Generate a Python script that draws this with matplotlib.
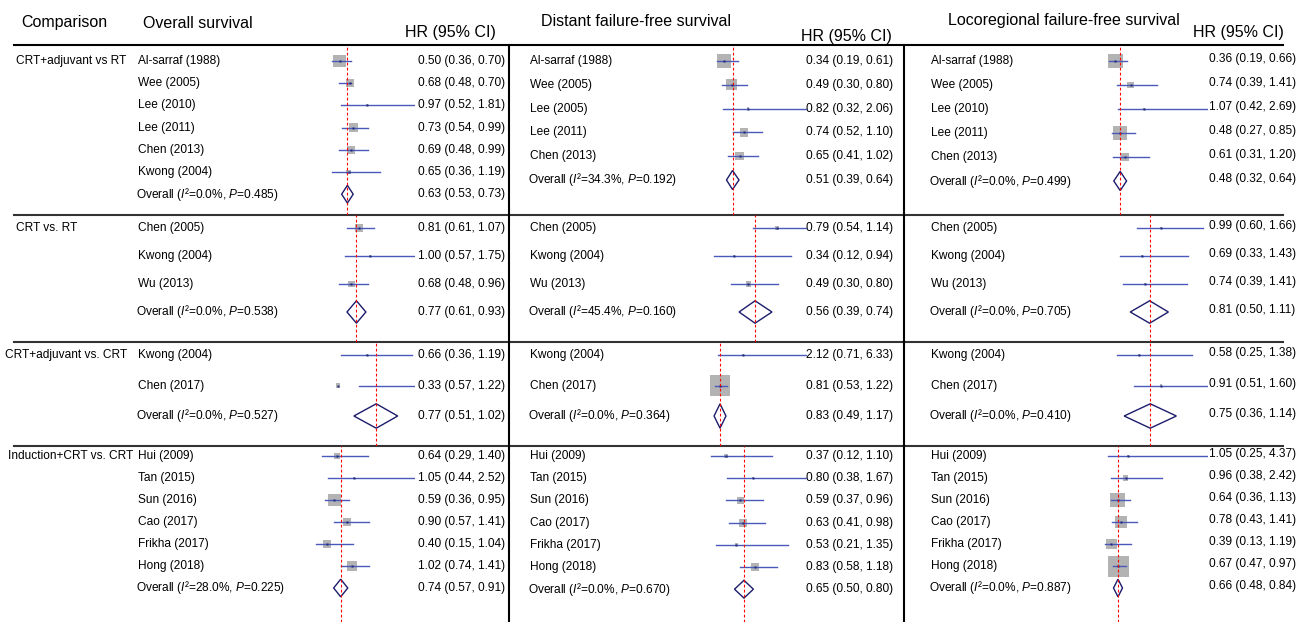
import matplotlib
matplotlib.use('Agg')
import matplotlib.pyplot as plt
from matplotlib.patches import Rectangle, Polygon

plt.rcParams['font.family'] = ['Liberation Sans', 'DejaVu Sans']
plt.rcParams['mathtext.fontset'] = 'custom'
plt.rcParams['mathtext.rm'] = 'Liberation Sans'
plt.rcParams['mathtext.it'] = 'Liberation Sans:italic'

# ---- data ----
comparisons = ['CRT+adjuvant vs RT', 'CRT vs. RT', 'CRT+adjuvant vs. CRT', 'Induction+CRT vs. CRT']
outcomes = ['Overall survival', 'Distant failure-free survival', 'Locoregional failure-free survival']

s1_os = ['Al-sarraf (1988)', 'Wee (2005)', 'Lee (2010)', 'Lee (2011)', 'Chen (2013)', 'Kwong (2004)']
s1_dffs = ['Al-sarraf (1988)', 'Wee (2005)', 'Lee (2005)', 'Lee (2011)', 'Chen (2013)']
s1_lrffs = ['Al-sarraf (1988)', 'Wee (2005)', 'Lee (2010)', 'Lee (2011)', 'Chen (2013)']
s2_studies = ['Chen (2005)', 'Kwong (2004)', 'Wu (2013)']
s3_studies = ['Kwong (2004)', 'Chen (2017)']
s4_studies = ['Hui (2009)', 'Tan (2015)', 'Sun (2016)', 'Cao (2017)', 'Frikha (2017)', 'Hong (2018)']

studies = [
    [s1_os, s2_studies, s3_studies, s4_studies],
    [s1_dffs, s2_studies, s3_studies, s4_studies],
    [s1_lrffs, s2_studies, s3_studies, s4_studies],
]

# hazard ratios per section
os_hr = [[0.50, 0.68, 0.97, 0.73, 0.69, 0.65], [0.81, 1.00, 0.68], [0.66, 0.33],
         [0.64, 1.05, 0.59, 0.90, 0.40, 1.02]]
os_lo = [[0.36, 0.48, 0.52, 0.54, 0.48, 0.36], [0.61, 0.57, 0.48], [0.36, 0.57],
         [0.29, 0.44, 0.36, 0.57, 0.15, 0.74]]
os_hi = [[0.70, 0.70, 1.81, 0.99, 0.99, 1.19], [1.07, 1.75, 0.96], [1.19, 1.22],
         [1.40, 2.52, 0.95, 1.41, 1.04, 1.41]]
os_wt = [[38, 15, 1, 18, 15, 4], [15, 1, 11], [1, 4], [8, 1, 33, 15, 15, 23]]

dffs_hr = [[0.34, 0.49, 0.82, 0.74, 0.65], [0.79, 0.34, 0.49], [2.12, 0.81],
           [0.37, 0.80, 0.59, 0.63, 0.53, 0.83]]
dffs_lo = [[0.19, 0.30, 0.32, 0.52, 0.41], [0.54, 0.12, 0.30], [0.71, 0.53],
           [0.12, 0.38, 0.37, 0.41, 0.21, 0.58]]
dffs_hi = [[0.61, 0.80, 2.06, 1.10, 1.02], [1.14, 0.94, 0.80], [6.33, 1.22],
           [1.10, 1.67, 0.96, 0.98, 1.35, 1.18]]
dffs_wt = [[44, 27, 2, 18, 15], [4, 1, 6], [1, 91], [4, 1, 11, 15, 2, 15]]

lrffs_hr = [[0.36, 0.74, 1.07, 0.48, 0.61], [0.99, 0.69, 0.74], [0.58, 0.91],
            [1.05, 0.96, 0.64, 0.78, 0.39, 0.67]]
lrffs_lo = [[0.19, 0.39, 0.42, 0.27, 0.31], [0.60, 0.33, 0.39], [0.25, 0.51],
            [0.25, 0.38, 0.36, 0.43, 0.13, 0.47]]
lrffs_hi = [[0.66, 1.41, 2.69, 0.85, 1.20], [1.66, 1.43, 1.41], [1.38, 1.60],
            [4.37, 2.42, 1.13, 1.41, 1.19, 0.97]]
lrffs_wt = [[51, 11, 1, 44, 15], [1, 1, 1], [1, 1], [1, 8, 51, 33, 27, 100]]

# pooled: HR, lower, upper, I2 (%), P
os_pooled = [(0.63, 0.53, 0.73, 0.0, 0.485), (0.77, 0.61, 0.93, 0.0, 0.538),
             (0.77, 0.51, 1.02, 0.0, 0.527), (0.74, 0.57, 0.91, 28.0, 0.225)]
dffs_pooled = [(0.51, 0.39, 0.64, 34.3, 0.192), (0.56, 0.39, 0.74, 45.4, 0.160),
               (0.83, 0.49, 1.17, 0.0, 0.364), (0.65, 0.50, 0.80, 0.0, 0.670)]
lrffs_pooled = [(0.48, 0.32, 0.64, 0.0, 0.499), (0.81, 0.50, 1.11, 0.0, 0.705),
                (0.75, 0.36, 1.14, 0.0, 0.410), (0.66, 0.48, 0.84, 0.0, 0.887)]

panels = [
    (os_hr, os_lo, os_hi, os_wt, os_pooled),
    (dffs_hr, dffs_lo, dffs_hi, dffs_wt, dffs_pooled),
    (lrffs_hr, lrffs_lo, lrffs_hi, lrffs_wt, lrffs_pooled),
]

# ---- layout (pixels) ----
W, H = 1301, 622
sec_bounds = [(45, 215), (215, 342), (342, 446), (446, 622)]
sec_first = [61, 228, 355, 456]
sec_step = [(22.2, 23.8, 24.0), (28, 28, 28), (30.5, 30.5, 30.5), (22, 22.2, 22)]
comp_x = [16, 16, 5, 8]
label_x = [138, 530, 931]
hr_x = [418, 806, 1209]
hr_dy = [0, 0, -2]   # locoregional HR column sits slightly higher
zero_x = [[311, 311, 310, 310], [707, 702.4, 705.5, 703], [1101, 1099, 1100, 1101.5]]
px_per_unit = [[57.8, 59, 86, 41.5], [50, 94, 17.5, 63], [40, 62.5, 67, 25]]
clip_x = [415, 807, 1208]

ci_color = '#4a5abc'
dot_color = '#1f2a7a'
box_color = '#b3b3b3'
dia_color = '#1c1c6c'
body_fs = 8.6
head_fs = 11.5

fig = plt.figure(figsize=(W / 100, H / 100), dpi=100)
ax = fig.add_axes([0, 0, 1, 1])
ax.set_xlim(0, W)
ax.set_ylim(H, 0)
ax.axis('off')

# headers
ax.text(21, 23, 'Comparison', fontsize=head_fs, va='center', ha='left')
title_pos = [(143, 23), (541, 22), (948, 20)]
hr_head_pos = [(405, 33), (801, 36), (1193, 33)]
for k in range(3):
    ax.text(*title_pos[k], outcomes[k], fontsize=head_fs, va='center', ha='left')
    ax.text(*hr_head_pos[k], 'HR (95% CI)', fontsize=head_fs, va='center', ha='left')

# frame lines
ax.plot([14, 1283], [45, 45], color='black', lw=1.5)
for y in [215, 342, 446]:
    ax.plot([14, 1283], [y, y], color='#333333', lw=1.5)
for x in [509, 904]:
    ax.plot([x, x], [45, H], color='black', lw=1.5)

for j, comp in enumerate(comparisons):
    ax.text(comp_x[j], sec_first[j], comp, fontsize=body_fs, va='center', ha='left')

for k, (hr, lo, hi, wt, pooled) in enumerate(panels):
    for j in range(4):
        top, bot = sec_bounds[j]
        z, s = zero_x[k][j], px_per_unit[k][j]
        fax = fig.add_axes([z / W, 1 - bot / H, (clip_x[k] - z) / W, (bot - top) / H])
        fax.set_xlim(0, (clip_x[k] - z) / s)
        fax.set_ylim(bot, top)
        fax.axis('off')

        names = studies[k][j]
        step = sec_step[j][k]
        ys = [sec_first[j] + i * step for i in range(len(names) + 1)]
        for i, name in enumerate(names):
            y = ys[i]
            side = 2.1 * wt[j][i] ** 0.5
            fax.add_patch(Rectangle((hr[j][i] - side / 2 / s, y - side / 2), side / s, side,
                                    facecolor=box_color, edgecolor='none', zorder=2))
            fax.plot([lo[j][i], hi[j][i]], [y, y], color=ci_color, lw=1.0, zorder=3)
            fax.plot(hr[j][i], y, marker='s', ms=2.0, color=dot_color, mec='none', zorder=4)
            ax.text(label_x[k], y, name, fontsize=body_fs, va='center', ha='left')
            ax.text(hr_x[k], y + hr_dy[k], f'{hr[j][i]:.2f} ({lo[j][i]:.2f}, {hi[j][i]:.2f})',
                    fontsize=body_fs, va='center', ha='left')

        p_hr, p_lo, p_hi, i2, pval = pooled[j]
        y = ys[-1]
        half = 0.4 * step
        fax.add_patch(Polygon([(p_lo, y), (p_hr, y - half), (p_hi, y), (p_hr, y + half)],
                              closed=True, facecolor='white', edgecolor=dia_color,
                              lw=1.0, zorder=3))
        fax.axvline(p_hr, color='red', lw=0.8, ls=(0, (2.5, 2.0)), zorder=5)
        ax.text(label_x[k] - 2, y,
                rf'Overall ($\mathit{{I}}$²={i2:.1f}%, $\mathit{{P}}$={pval:.3f})',
                fontsize=body_fs, va='center', ha='left')
        ax.text(hr_x[k], y + hr_dy[k], f'{p_hr:.2f} ({p_lo:.2f}, {p_hi:.2f})',
                fontsize=body_fs, va='center', ha='left')

fig.savefig('out.png', dpi=100)
